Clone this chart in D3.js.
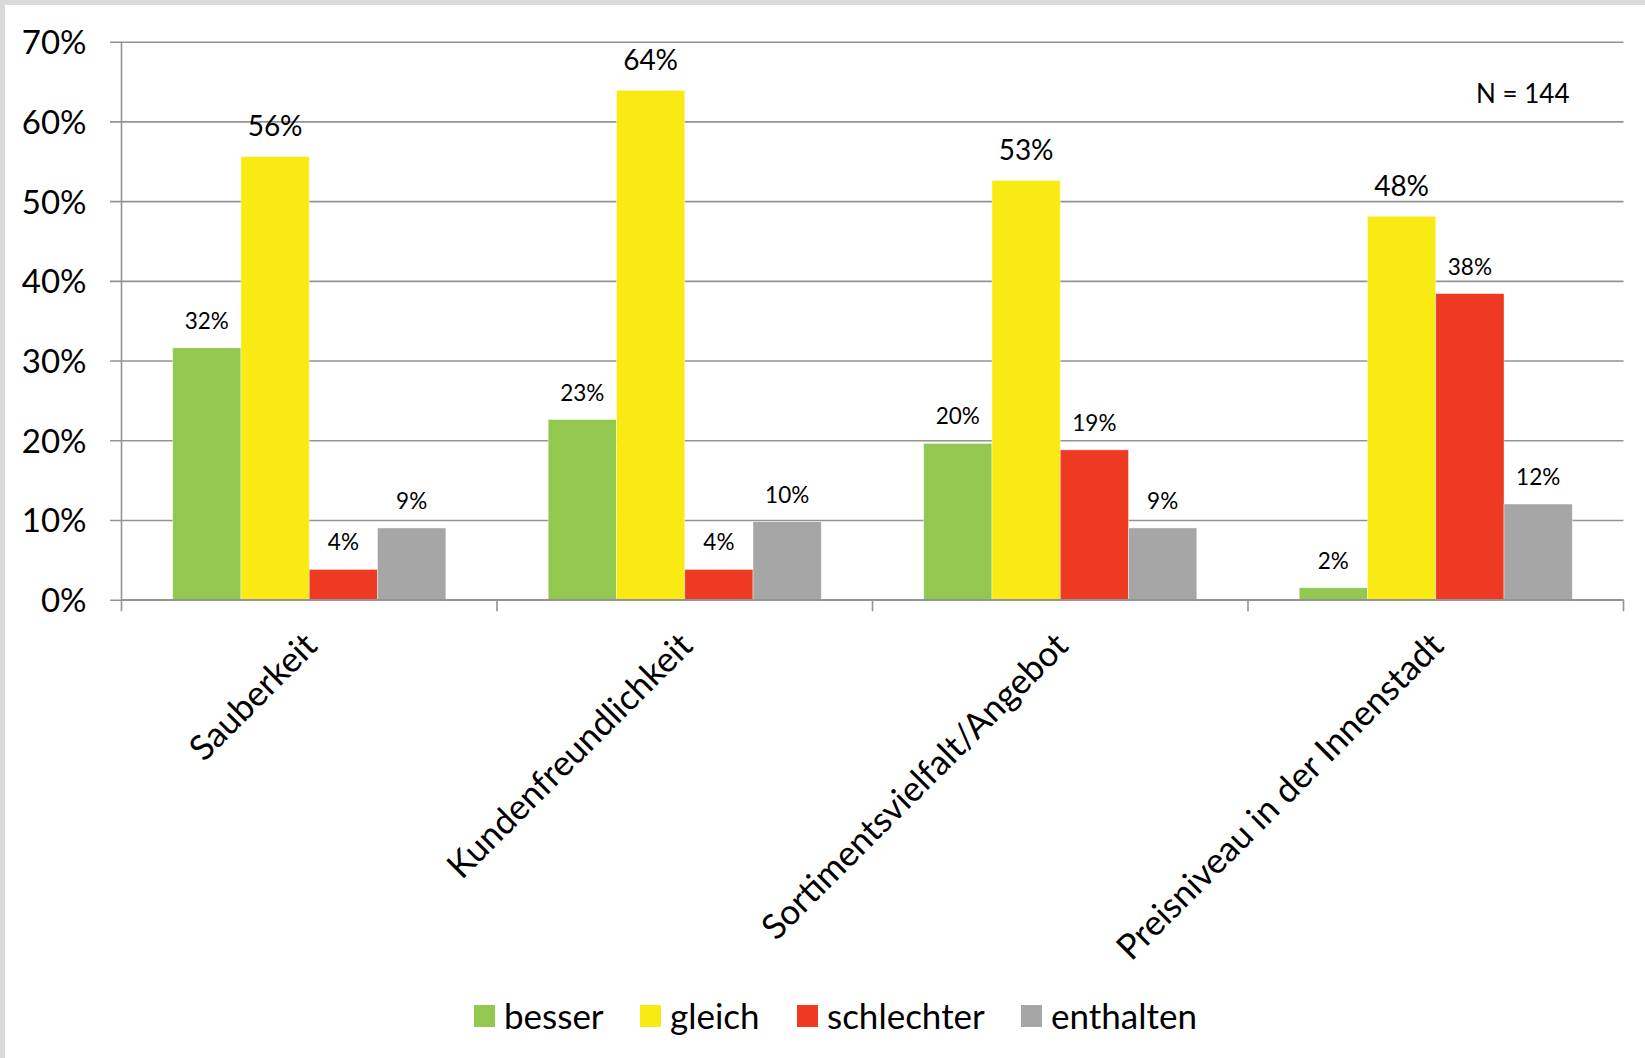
<!DOCTYPE html>
<html>
<head>
<meta charset="utf-8">
<script src="https://cdn.jsdelivr.net/npm/d3@7"></script>
<style>
  html, body { margin: 0; padding: 0; background: #fff; }
  svg { display: block; font-family: Lato, "Open Sans", sans-serif; }
</style>
</head>
<body>
<svg id="chart" width="1645" height="1058"></svg>
<script>
const categories = ["Sauberkeit", "Kundenfreundlichkeit", "Sortimentsvielfalt/Angebot", "Preisniveau in der Innenstadt"];
const seriesNames = ["besser", "gleich", "schlechter", "enthalten"];
const besser     = [31.6, 22.6, 19.6, 1.5];
const gleich     = [55.6, 63.9, 52.6, 48.1];
const schlechter = [3.8, 3.8, 18.8, 38.4];
const enthalten  = [9.0, 9.8, 9.0, 12.0];
const labelsBesser     = ["32%", "23%", "20%", "2%"];
const labelsGleich     = ["56%", "64%", "53%", "48%"];
const labelsSchlechter = ["4%", "4%", "19%", "38%"];
const labelsEnthalten  = ["9%", "10%", "9%", "12%"];
const yTicks = [0, 10, 20, 30, 40, 50, 60, 70];
const colors = ["#92c850", "#f8ea12", "#ee3923", "#a6a6a6"];
const noteText = "N = 144";

const seriesValues = [besser, gleich, schlechter, enthalten];
const seriesLabels = [labelsBesser, labelsGleich, labelsSchlechter, labelsEnthalten];

const svg = d3.select("#chart");
const W = 1645, H = 1058;
const plot = { left: 121.5, right: 1623.5, top: 41.7, bottom: 599.7 };

// frame (top & left light gray strips)
svg.append("rect").attr("x", 0).attr("y", 0).attr("width", W).attr("height", 5).attr("fill", "#d9d9d9");
svg.append("rect").attr("x", 0).attr("y", 0).attr("width", 5).attr("height", H).attr("fill", "#d9d9d9");

const y = d3.scaleLinear().domain([0, 70]).range([plot.bottom, plot.top]);
const x = d3.scaleBand().domain(categories).range([plot.left, plot.right]).padding(0);
const xi = d3.scaleBand().domain(seriesNames).range([0, x.bandwidth()]).paddingInner(0).paddingOuter(0.75);

const gridColor = "#939393";

// y axis with gridlines
const yAxis = d3.axisLeft(y).tickValues(yTicks).tickFormat(d => d + "%")
  .tickSize(-(plot.right - plot.left)).tickSizeOuter(0).tickPadding(0);
const gy = svg.append("g").attr("transform", `translate(${plot.left},0)`).call(yAxis);
gy.select(".domain").remove();
gy.selectAll(".tick line").attr("x1", -11.5).attr("stroke", gridColor).attr("stroke-width", 1.6);
gy.selectAll(".tick text").attr("x", -35).attr("dy", "0.36em")
  .attr("font-size", 33).attr("fill", "#000").attr("font-family", "Lato, sans-serif");

// y axis vertical line
svg.append("line").attr("x1", plot.left).attr("x2", plot.left)
  .attr("y1", plot.top).attr("y2", plot.bottom + 11.5)
  .attr("stroke", gridColor).attr("stroke-width", 1.6);

// x axis ticks at band boundaries
const boundaries = categories.map(c => x(c)).concat([plot.right]);
svg.append("g").selectAll("line").data(boundaries.slice(1)).join("line")
  .attr("x1", d => d).attr("x2", d => d)
  .attr("y1", plot.bottom).attr("y2", plot.bottom + 11.5)
  .attr("stroke", gridColor).attr("stroke-width", 1.6);

// bars
const barData = [];
categories.forEach((c, ci) => {
  seriesNames.forEach((s, si) => {
    barData.push({ c, s, si, v: seriesValues[si][ci], label: seriesLabels[si][ci] });
  });
});

svg.append("g").selectAll("rect").data(barData).join("rect")
  .attr("x", d => x(d.c) + xi(d.s))
  .attr("width", xi.bandwidth())
  .attr("y", d => y(d.v))
  .attr("height", d => y(0) - y(d.v))
  .attr("fill", d => colors[d.si])
  .attr("stroke", "#ffffff").attr("stroke-opacity", 0.5).attr("stroke-width", 0.8);

// baseline over bars
svg.append("line").attr("x1", plot.left).attr("x2", plot.right)
  .attr("y1", plot.bottom).attr("y2", plot.bottom)
  .attr("stroke", gridColor).attr("stroke-width", 1.6);

// data labels
svg.append("g").selectAll("text").data(barData).join("text")
  .attr("x", d => x(d.c) + xi(d.s) + xi.bandwidth() / 2)
  .attr("y", d => y(d.v) - (d.si === 1 ? 20 : 19))
  .attr("text-anchor", "middle")
  .attr("font-size", d => d.si === 1 ? 28 : 22.5)
  .attr("fill", "#000")
  .text(d => d.label);

// category labels rotated
svg.append("g").selectAll("text").data(categories).join("text")
  .attr("transform", d => `translate(${x(d) + x.bandwidth() / 2 - 8},${630}) rotate(-45)`)
  .attr("text-anchor", "end")
  .attr("dy", "0.72em")
  .attr("font-size", 35)
  .attr("fill", "#000")
  .text(d => d);

// N note
svg.append("text").attr("x", 1476).attr("y", 103)
  .attr("font-size", 26).attr("fill", "#000").text(noteText);

// legend
const legendX = [474, 640, 797, 1021];
const lg = svg.append("g").selectAll("g").data(seriesNames).join("g")
  .attr("transform", (d, i) => `translate(${legendX[i]},1005)`);
lg.append("rect").attr("width", 21).attr("height", 22).attr("fill", (d, i) => colors[i]);
lg.append("text").attr("x", 30).attr("y", 11).attr("dy", "0.36em")
  .attr("font-size", 35).attr("fill", "#000").text(d => d);
</script>
</body>
</html>
